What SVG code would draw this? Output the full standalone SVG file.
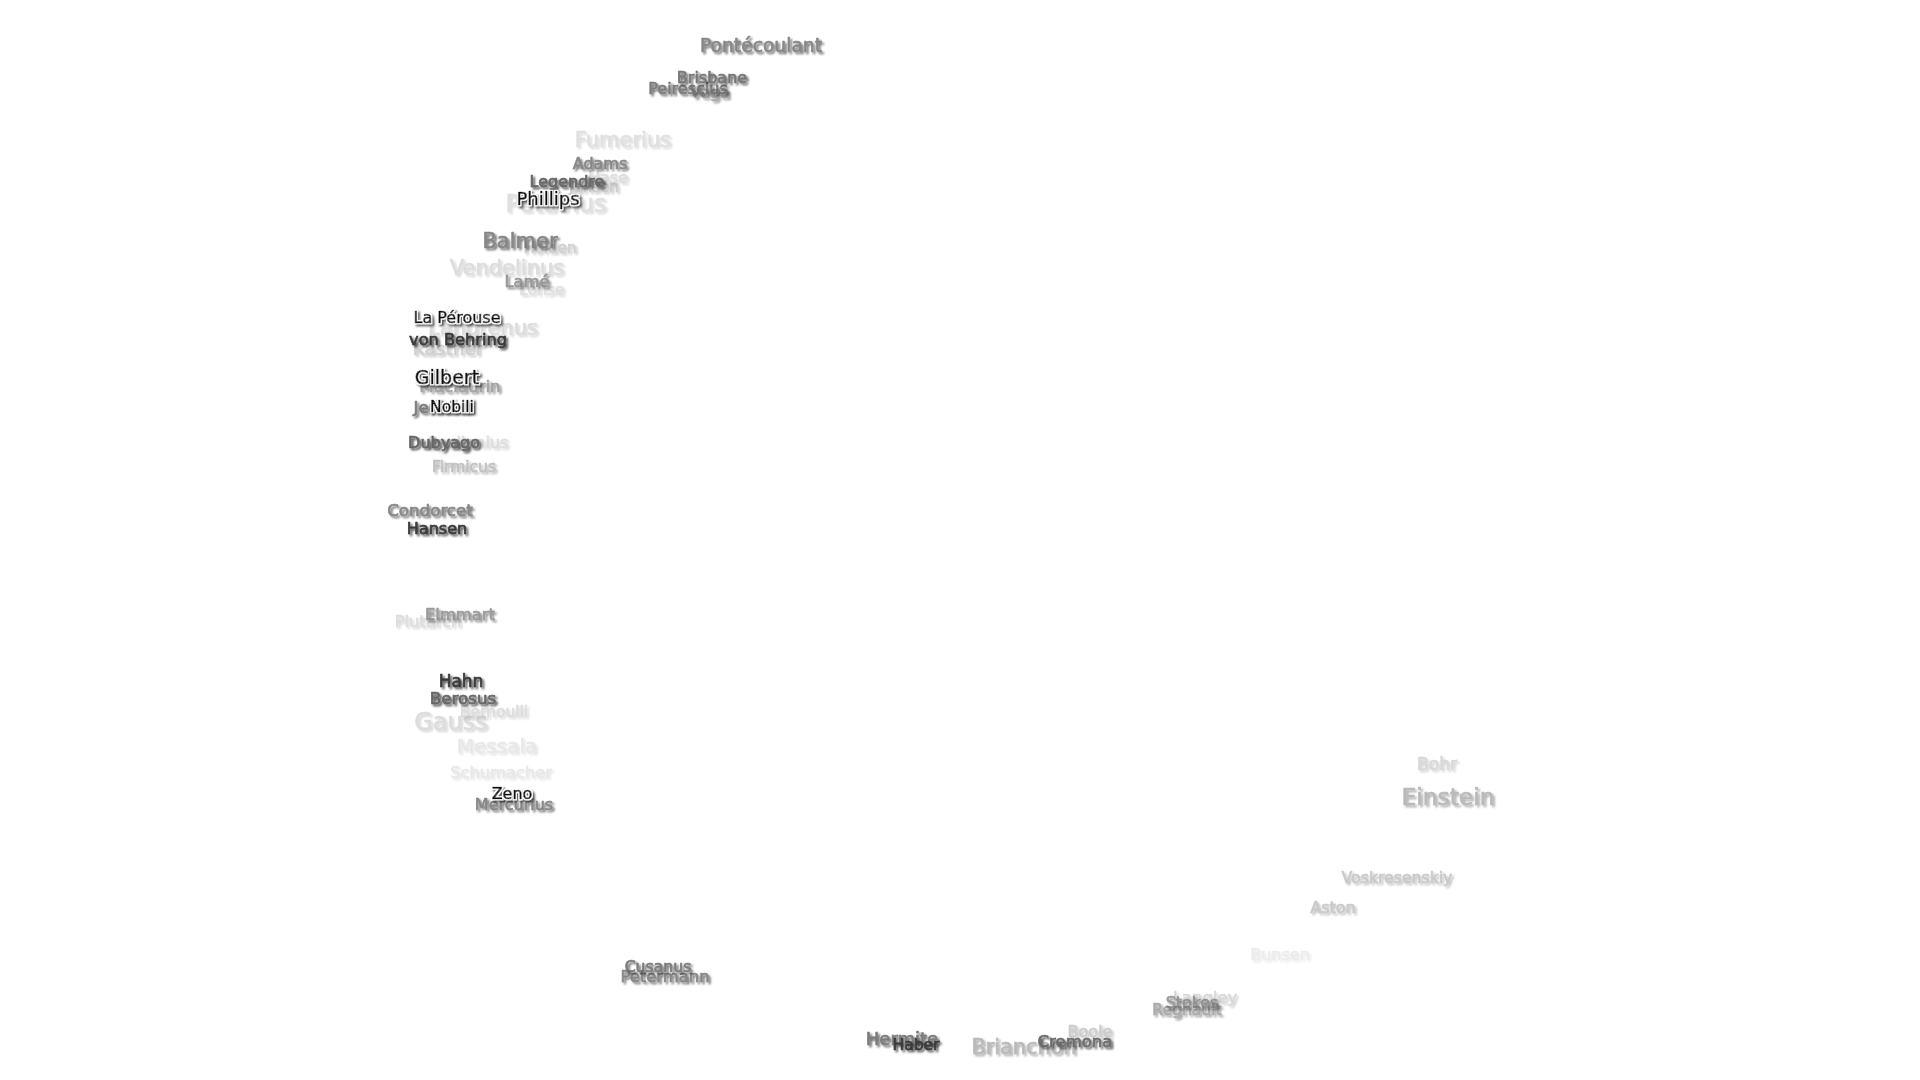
<svg xmlns="http://www.w3.org/2000/svg" width="1920" height="1080" viewBox="0 0 1920 1080">
<defs>
<filter id="sh" x="-20%" y="-50%" width="140%" height="200%">
<feGaussianBlur in="SourceAlpha" stdDeviation="1.2"/>
<feOffset dx="1.8" dy="1.8" result="b"/>
<feFlood flood-color="#000" flood-opacity="0.7"/>
<feComposite in2="b" operator="in"/>
<feMerge><feMergeNode/><feMergeNode in="SourceGraphic"/></feMerge>
</filter>
<filter id="shk" x="-20%" y="-50%" width="140%" height="200%">
<feMorphology in="SourceAlpha" operator="dilate" radius="1" result="d"/>
<feFlood flood-color="#fff"/>
<feComposite in2="d" operator="in" result="halo"/>
<feGaussianBlur in="d" stdDeviation="1.2"/>
<feOffset dx="1.8" dy="1.8" result="b"/>
<feFlood flood-color="#000" flood-opacity="0.65"/>
<feComposite in2="b" operator="in" result="s"/>
<feMerge><feMergeNode in="s"/><feMergeNode in="halo"/><feMergeNode in="SourceGraphic"/></feMerge>
</filter>
<style>
text{font-family:"DejaVu Sans","Liberation Sans",sans-serif;text-anchor:middle;fill:#666;stroke:#666;stroke-width:0.7px;stroke-linejoin:round;filter:url(#sh)}
.k{fill:#111;stroke:#111;filter:url(#shk)}
.d{fill:#3a3a3a;stroke:#3a3a3a}
</style>
</defs>
<rect width="1920" height="1080" fill="#fff"/>
<g id="nodes">
<g id="n-bunsen" opacity="0.12"><text x="1280" y="960" font-size="16">Bunsen</text></g>
<g id="n-messala" opacity="0.15"><text x="497" y="753" font-size="20">Messala</text></g>
<g id="n-schumacher" opacity="0.15"><text x="501" y="778" font-size="16.3">Schumacher</text></g>
<g id="n-fumerius" opacity="0.2"><text x="623" y="147" font-size="21">Fumerius</text></g>
<g id="n-petavius" opacity="0.2"><text x="556" y="212" font-size="24">Petavius</text></g>
<g id="n-lohse" opacity="0.2"><text x="542" y="295" font-size="15.5">Lohse</text></g>
<g id="n-hase" opacity="0.22"><text x="608" y="183" font-size="16">Hase</text></g>
<g id="n-vendelinus" opacity="0.22"><text x="507" y="275" font-size="21">Vendelinus</text></g>
<g id="n-langrenus" opacity="0.22"><text x="483" y="335" font-size="21">Langrenus</text></g>
<g id="n-apollonius" opacity="0.22"><text x="467" y="448" font-size="16">Apollonius</text></g>
<g id="n-plutarch" opacity="0.22"><text x="428" y="627" font-size="16.3">Plutarch</text></g>
<g id="n-bernoulli" opacity="0.22"><text x="494" y="717" font-size="15.5">Bernoulli</text></g>
<g id="n-gauss" opacity="0.22"><text x="451" y="730" font-size="24">Gauss</text></g>
<g id="n-langley" opacity="0.25"><text x="1205" y="1003" font-size="16.5">Langley</text></g>
<g id="n-bohr" opacity="0.25"><text x="1437" y="770" font-size="17">Bohr</text></g>
<g id="n-holden" opacity="0.3"><text x="550" y="253" font-size="15">Holden</text></g>
<g id="n-kastner" opacity="0.3"><text x="448" y="355" font-size="18.5">Kästner</text></g>
<g id="n-jansen" opacity="0.33"><text x="594" y="192" font-size="15">Jansen</text></g>
<g id="n-boole" opacity="0.33"><text x="1090" y="1037" font-size="16">Boole</text></g>
<g id="n-voskresenskiy" opacity="0.35"><text x="1397" y="883" font-size="15.7">Voskresenskiy</text></g>
<g id="n-aston" opacity="0.35"><text x="1333" y="913" font-size="16">Aston</text></g>
<g id="n-firmicus" opacity="0.4"><text x="464" y="472" font-size="15.5">Firmicus</text></g>
<g id="n-brianchon" opacity="0.45"><text x="1024" y="1054" font-size="20.8">Brianchon</text></g>
<g id="n-einstein" opacity="0.45"><text x="1448" y="805" font-size="23.4">Einstein</text></g>
<g id="n-regnault" opacity="0.55"><text x="1187" y="1015" font-size="15.6">Regnault</text></g>
<g id="n-vega" opacity="0.56"><text x="710" y="98" font-size="16">Vega</text></g>
<g id="n-maclaurin" opacity="0.6"><text x="460" y="392" font-size="16.7">Maclaurin</text></g>
<g id="n-elmmart" opacity="0.65"><text x="460" y="620" font-size="16.4">Elmmart</text></g>
<g id="n-stokes" opacity="0.65"><text x="1192" y="1008" font-size="15.8">Stokes</text></g>
<g id="n-lame" opacity="0.67"><text x="527" y="287" font-size="16.3">Lamé</text></g>
<g id="n-pontecoulant" opacity="0.78"><text x="761" y="52" font-size="18.7">Pontécoulant</text></g>
<g id="n-adams" opacity="0.78"><text x="600" y="169" font-size="16">Adams</text></g>
<g id="n-balmer" opacity="0.78"><text x="520" y="248" font-size="21">Balmer</text></g>
<g id="n-condorcet" opacity="0.78"><text x="430" y="516" font-size="16.7">Condorcet</text></g>
<g id="n-mercurius" opacity="0.78"><text x="514" y="810" font-size="16">Mercurius</text></g>
<g id="n-petermann" opacity="0.78"><text x="665" y="982" font-size="16.4">Petermann</text></g>
<g id="n-peirescius" opacity="0.85"><text x="688" y="94" font-size="16">Peirescius</text></g>
<g id="n-jenkins" opacity="0.85"><text x="443" y="413" font-size="16.6">Jenkins</text></g>
<g id="n-cusanus" opacity="0.85"><text x="658" y="972" font-size="15.7">Cusanus</text></g>
<g id="n-hermite" opacity="0.85"><text x="902" y="1045" font-size="18">Hermite</text></g>
<g id="n-brisbane" opacity="0.89"><text x="712" y="83" font-size="16">Brisbane</text></g>
<g id="n-legendre"><text x="567" y="187" font-size="16">Legendre</text></g>
<g id="n-dubyago"><text x="444" y="448" font-size="16">Dubyago</text></g>
<g id="n-berosus"><text x="463" y="704" font-size="16.7">Berosus</text></g>
<g id="n-cremona" opacity="0.95"><text x="1075" y="1047" font-size="16.5">Cremona</text></g>
<g id="n-vonbehring"><text class="d" x="458" y="345" font-size="16.2">von Behring</text></g>
<g id="n-hansen"><text class="d" x="437" y="534" font-size="16">Hansen</text></g>
<g id="n-haber"><text class="d" x="916" y="1050" font-size="15.5">Haber</text></g>
<g id="n-hahn"><text class="d" x="461" y="687" font-size="17">Hahn</text></g>
<g id="n-zeno"><text class="k" x="512" y="799" font-size="16">Zeno</text></g>
<g id="n-phillips"><text class="k" x="548" y="205" font-size="18">Phillips</text></g>
<g id="n-laperouse"><text class="k" x="457" y="323" font-size="16">La Pérouse</text></g>
<g id="n-gilbert"><text class="k" x="447" y="384" font-size="19">Gilbert</text></g>
<g id="n-nobili"><text class="k" x="452" y="412" font-size="15.5">Nobili</text></g>
</g>
<g id="connectors"/>
</svg>
